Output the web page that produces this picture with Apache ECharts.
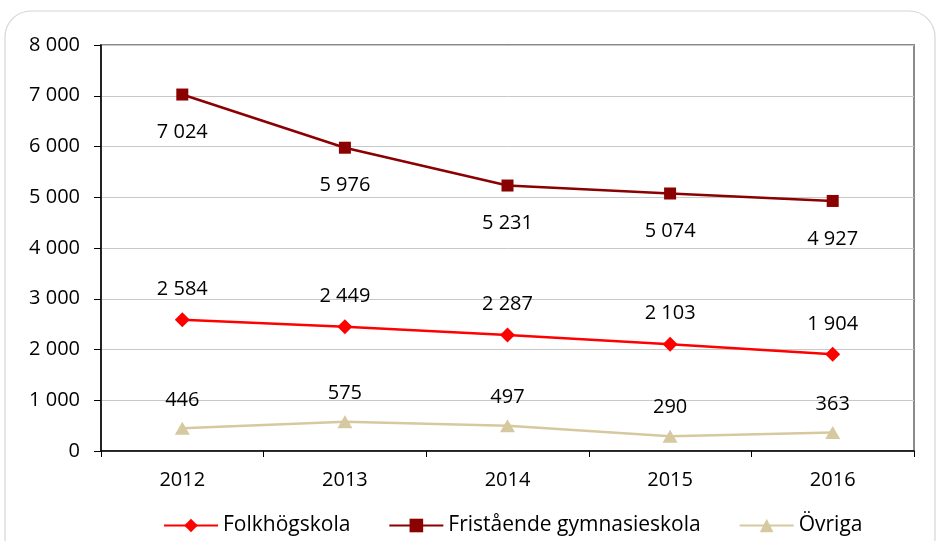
<!DOCTYPE html>
<html>
<head>
<meta charset="utf-8">
<script src="https://cdn.jsdelivr.net/npm/echarts@6/dist/echarts.min.js"></script>
<style>
  html, body { margin: 0; padding: 0; background: #fff; }
  #main { width: 939px; height: 541px; }
</style>
</head>
<body>
<div id="main"></div>
<script>
// categories and series
const years = ['2012', '2013', '2014', '2015', '2016']
const folkhogskola = [2584, 2449, 2287, 2103, 1904]
const fristaende = [7024, 5976, 5231, 5074, 4927]
const ovriga = [446, 575, 497, 290, 363]

const FONT = 'Open Sans'
const fmt = (v) => String(v).replace(/\B(?=(\d{3})+(?!\d))/g, ' ')

const chart = echarts.init(document.getElementById('main'))

const labelStyle = {
  show: true,
  fontFamily: FONT,
  fontSize: 20,
  color: '#000',
  formatter: (p) => fmt(p.value)
}

chart.setOption({
  animation: false,
  textStyle: { fontFamily: FONT },
  graphic: [
    {
      type: 'rect',
      shape: { x: 5, y: 11, width: 930, height: 560, r: 26 },
      style: { fill: 'none', stroke: '#d6d6d6', lineWidth: 1.2 },
      silent: true,
      z: -1
    }
  ],
  grid: {
    left: 101,
    right: 25,
    top: 45,
    bottom: 90,
    show: true,
    borderColor: '#8a8a8a',
    borderWidth: 2
  },
  legend: {
    left: 158,
    top: 510,
    itemWidth: 54,
    itemHeight: 17,
    itemGap: 38,
    textStyle: { fontFamily: FONT, fontSize: 21, color: '#000' },
    data: ['Folkhögskola', 'Fristående gymnasieskola', 'Övriga']
  },
  xAxis: {
    type: 'category',
    data: years,
    boundaryGap: true,
    axisLine: { lineStyle: { color: '#000', width: 1.5 } },
    axisTick: { show: true, length: 6, lineStyle: { color: '#000' } },
    axisLabel: { fontFamily: FONT, fontSize: 20, color: '#000', margin: 19 },
    splitLine: { show: false }
  },
  yAxis: {
    type: 'value',
    min: 0,
    max: 8000,
    interval: 1000,
    axisLine: { show: true, lineStyle: { color: '#000', width: 1.5 } },
    axisTick: { show: true, length: 7, lineStyle: { color: '#000' } },
    axisLabel: {
      fontFamily: FONT,
      fontSize: 20,
      color: '#000',
      margin: 21,
      formatter: (v) => fmt(v)
    },
    splitLine: { lineStyle: { color: '#c8c8c8', width: 1 } }
  },
  series: [
    {
      name: 'Folkhögskola',
      type: 'line',
      data: folkhogskola,
      symbol: 'diamond',
      symbolSize: 15,
      lineStyle: { color: '#ff0000', width: 2.5 },
      itemStyle: { color: '#ff0000' },
      label: { ...labelStyle, position: 'top', distance: 13 }
    },
    {
      name: 'Fristående gymnasieskola',
      type: 'line',
      data: fristaende,
      symbol: 'rect',
      symbolSize: 12,
      lineStyle: { color: '#8b0000', width: 2.5 },
      itemStyle: { color: '#8b0000' },
      label: { ...labelStyle, position: 'bottom', distance: 22 }
    },
    {
      name: 'Övriga',
      type: 'line',
      data: ovriga,
      symbol: 'triangle',
      symbolSize: [15, 13],
      lineStyle: { color: '#d6c9a0', width: 2.5 },
      itemStyle: { color: '#d6c9a0' },
      label: { ...labelStyle, position: 'top', distance: 12 }
    }
  ]
})

window.onresize = function () {
  chart.resize()
}
</script>
</body>
</html>
